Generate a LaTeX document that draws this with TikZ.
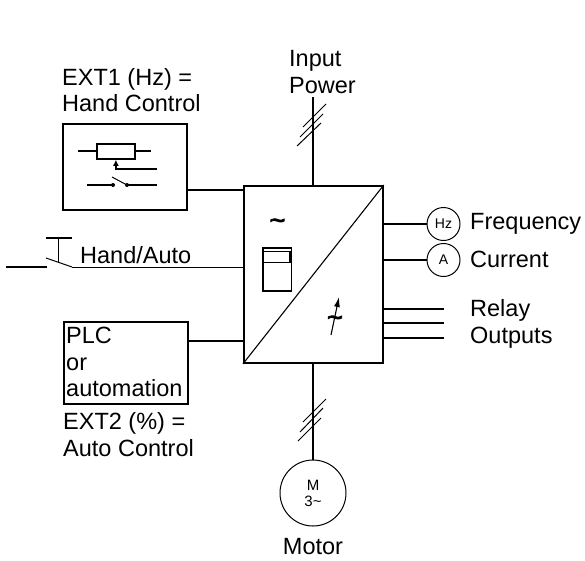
\documentclass[tikz,border=0pt]{standalone}
\usepackage{fontspec}
\setmainfont{Liberation Sans}
\newfontfamily\tildefont[FakeBold=3]{Liberation Sans}
\usetikzlibrary{arrows.meta}
\tikzset{
  thick line/.style={line width=1.8pt},
  thin line/.style={line width=0.9pt},
  label text/.style={font=\fontsize{23.5}{26.5}\selectfont,align=left,inner sep=0pt},
  meter/.style={circle,draw,line width=1pt,minimum size=33pt,inner sep=0pt,font=\fontsize{14}{16}\selectfont},
  boxed/.style={draw,line width=1.8pt,inner sep=0pt,anchor=north west},
  tildemark/.style={font=\tildefont\fontsize{27}{27}\selectfont,inner sep=0pt},
}
\begin{document}
\begin{tikzpicture}[x=1pt,y=-1pt]
\useasboundingbox (0,0) rectangle (585,560);
% main box
\node[boxed,minimum width=139pt,minimum height=177pt] (drive) at (243,185) {};
\draw[line width=1.1pt] (drive.south west) -- (drive.north east);
\node[tildemark] (ac) at (277.5,224) {\char"7E};
\node[boxed,minimum width=28.5pt,minimum height=43pt] (sw) at (262,247) {};
\node[boxed,line width=1.4pt,minimum width=28pt,minimum height=11pt] (swin) at (262,250.5) {};
\draw[line width=2.4pt] (swin.north east) ++(-1.2,0) coordinate (sa) -- (sa |- swin.south);
\coordinate (ta) at (331,335);
\coordinate (tb) at (339,297);
\draw[line width=1.1pt,-{Latex[length=10pt,width=6pt]}] (ta) -- (tb);
\node[tildemark] (dc) at (335,321) {\char"7E};
% input
\node[label text,anchor=west] (inp) at (289,72) {Input\\Power};
\coordinate (inT) at (313,97);
\draw[thick line] (inT) -- (drive.north -| inT);
\coordinate (a1) at (303,127); \coordinate (a2) at (326,104);
\coordinate (a3) at (300,137); \coordinate (a4) at (323,114);
\coordinate (a5) at (297,146); \coordinate (a6) at (321,123);
\draw[line width=1pt] (a1)--(a2) (a3)--(a4) (a5)--(a6);
% hand
\node[label text,anchor=west] (ext1) at (62,90) {EXT1 (Hz) =\\Hand Control};
\node[boxed,minimum width=124pt,minimum height=86pt] (hand) at (62,123) {};
\coordinate (r1) at (78,151); \coordinate (r2) at (151,151);
\draw[thick line] (r1)--(r2);
\node[boxed,fill=white,minimum width=38pt,minimum height=15pt] (res) at (96,143) {};
\coordinate (wp) at (157,169);
\draw[thick line,-{Latex[length=6pt,width=6pt]}] (wp) -| (res.south);
\coordinate (s1) at (87,185); \coordinate (s4) at (157,185);
\coordinate (s2) at (113,185); \coordinate (s3) at (127,185); \coordinate (bl) at (112,177);
\draw[thick line] (s1)--(s2) (s3)--(s4);
\draw[line width=1pt] (bl)--(s3);
\fill (s2) circle (2pt) (s3) circle (2pt);
\draw[thick line] (hand.east |- 0,190) -- (drive.west |- 0,190);
% hand/auto
\node[label text,anchor=west] (ha) at (80,255) {Hand/Auto};
\coordinate (h0) at (6,267); \coordinate (h1) at (47,267); \coordinate (h2) at (72,267);
\coordinate (bb) at (46,258);
\coordinate (t1) at (46,238); \coordinate (t2) at (72,238);
\coordinate (t3) at (58.5,238); \coordinate (t4) at (58.5,262);
\draw[thick line] (h0)--(h1);
\draw[line width=1pt] (bb)--(h2);
\draw[thin line] (h2)-- (drive.west |- h2);
\draw[thick line] (t1)--(t2) (t3)--(t4);
% plc
\node[boxed,minimum width=124pt,minimum height=82pt] (plc) at (63,321) {};
\node[label text,anchor=west] (plct) at (66,362) {PLC\\or\\automation};
\draw[thick line] (plc.east |- 0,341) -- (drive.west |- 0,341);
\node[label text,anchor=west] (ext2) at (63,434.5) {EXT2 (\%) =\\Auto Control};
% motor
\node[circle,draw,line width=1pt,minimum size=66pt,inner sep=0pt,align=center,font=\fontsize{15}{16}\selectfont] (mot) at (313,493) {M\\3\char"7E};
\draw[thick line] (drive.south -| mot) -- (mot.north);
\coordinate (b1) at (303,422); \coordinate (b2) at (326,399);
\coordinate (b3) at (300,432); \coordinate (b4) at (323,408);
\coordinate (b5) at (298,441); \coordinate (b6) at (321,418);
\draw[line width=1pt] (b1)--(b2) (b3)--(b4) (b5)--(b6);
\node[label text] (mt) at (313,547) {Motor};
% right
\node[meter] (hz) at (443.5,224) {Hz};
\node[meter] (am) at (443.5,260) {A};
\draw[thick line] (drive.east |- hz) -- (hz.west);
\draw[thick line] (drive.east |- am) -- (am.west);
\node[label text,anchor=west] (fr) at (470,224) {Frequency};
\node[label text,anchor=west] (cu) at (470,259) {Current};
\node[label text,anchor=west] (ro) at (470,324) {Relay\\Outputs};
\coordinate (o1) at (444,309); \coordinate (o2) at (444,323); \coordinate (o3) at (444,338);
\draw[thick line] (drive.east |- o1) -- (o1);
\draw[thick line] (drive.east |- o2) -- (o2);
\draw[thick line] (drive.east |- o3) -- (o3);
\end{tikzpicture}
\end{document}
